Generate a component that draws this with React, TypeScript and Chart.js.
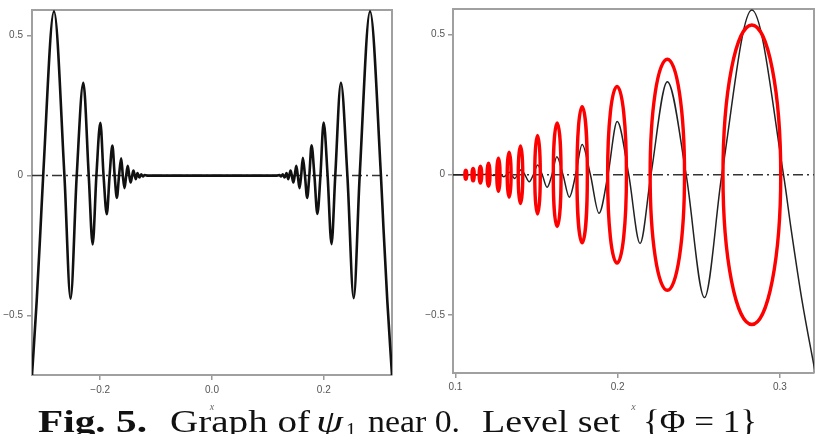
import React, { useEffect, useRef } from 'react';
import { Chart, registerables } from 'chart.js';

Chart.register(...registerables);

// ---------- data ----------
// psi_1 for x < 0 (left panel, negative half)
const negX = [
  -0.322, -0.3136, -0.3068, -0.302, -0.2827,
  -0.264, -0.253, -0.242, -0.2302, -0.2205, -0.2135, -0.2068, -0.1997, -0.194,
  -0.1882, -0.1832, -0.1782, -0.1741, -0.1702, -0.1663, -0.1625, -0.1595, -0.1565, -0.1535,
  -0.1507, -0.148, -0.1455, -0.1428, -0.1405, -0.1365, -0.1333, -0.1298, -0.1267, -0.1235,
  -0.1205, -0.118, -0.115,
];
const negY = [
  -0.713, -0.448, -0.19, 0, 0.587,
  0, -0.44, 0, 0.332, 0, -0.246, 0, 0.189, 0,
  -0.138, 0, 0.107, 0, -0.08, 0, 0.062, 0, -0.045, 0,
  0.035, 0, -0.025, 0, 0.018, -0.013, 0.009, -0.007, 0.005, -0.003,
  0.002, 0.001, 0,
];
// psi_1 for x > 0 (right panel, also right half of left panel)
const psiX = [
  0.098, 0.115, 0.118, 0.1205, 0.1235, 0.1267, 0.1298, 0.1333, 0.1365, 0.1405,
  0.1428, 0.1455, 0.148, 0.1507, 0.1535, 0.1565, 0.1595, 0.1625, 0.1663, 0.1702,
  0.1741, 0.1781, 0.1832, 0.1885, 0.194, 0.1997, 0.2068, 0.2138, 0.2205, 0.2306,
  0.2422, 0.2535, 0.2642, 0.2827, 0.3022, 0.3068, 0.3136, 0.322,
];
const psiY = [
  0, 0, 0.001, 0.002, -0.003, 0.005, -0.007, 0.009, -0.013, 0.018,
  0, -0.025, 0, 0.035, 0, -0.045, 0, 0.064, 0, -0.08,
  0, 0.108, 0, -0.137, 0, 0.19, 0, -0.245, 0, 0.332,
  0, -0.438, 0, 0.587, 0, -0.19, -0.448, -0.713,
];

// level set {Phi = 1}: closed red loops (centre, half width, half height)
const ellipseCenters = [0.1064, 0.1109, 0.1154, 0.1204, 0.1265, 0.1331, 0.1401, 0.1506, 0.1627, 0.1781, 0.1996, 0.2306, 0.2827];
const ellipseHalfWidths = [0.0006, 0.0007, 0.0008, 0.0009, 0.001, 0.0012, 0.0014, 0.0017, 0.0024, 0.0032, 0.0058, 0.0106, 0.0178];
const ellipseHalfHeights = [0.016, 0.022, 0.03, 0.041, 0.059, 0.08, 0.103, 0.14, 0.185, 0.243, 0.315, 0.412, 0.534];

// axes
const leftXRange = [-0.322, 0.322];
const leftYRange = [-0.713, 0.592];
const rightXRange = [0.0985, 0.321];
const rightYRange = [-0.707, 0.591];
const leftXTicks = [-0.2, 0, 0.2];
const leftXTickLabels = ['\u22120.2', '0.0', '0.2'];
const rightXTicks = [0.1, 0.2, 0.3];
const rightXTickLabels = ['0.1', '0.2', '0.3'];
const yTicks = [-0.5, 0, 0.5];
const yTickLabels = ['\u22120.5', '0', '0.5'];
const axisTitle = 'x';

// ---------- plugins ----------
const closedLoopPlugin = {
  id: 'closedLoop',
  afterDatasetsUpdate(chart: any) {
    chart.data.datasets.forEach((ds: any, i: number) => {
      if (!ds.closedLoop) return;
      const line: any = chart.getDatasetMeta(i).dataset;
      if (!line) return;
      line._loop = true;
      line._fullLoop = true;
      line._segments = undefined;
      line._path = undefined;
      line._pointsUpdated = false;
    });
  },
};

const framePlugin = {
  id: 'frame',
  beforeDatasetsDraw(chart: any) {
    const { ctx, chartArea: a } = chart;
    ctx.save();
    ctx.strokeStyle = '#a0a0a0';
    ctx.lineWidth = 2;
    ctx.beginPath();
    ctx.moveTo(a.left, a.top);
    ctx.lineTo(a.right, a.top);
    ctx.lineTo(a.right, a.bottom);
    ctx.stroke();
    ctx.restore();
  },
};

const tickFont = { family: 'Liberation Sans', size: 10 };

function buildConfig(o: any) {
  return {
    type: 'line',
    data: { datasets: o.datasets },
    options: {
      responsive: false,
      animation: false,
      events: [],
      layout: { padding: { top: 6, right: o.padRight, bottom: 0, left: 0 } },
      plugins: { legend: { display: false }, tooltip: { enabled: false } },
      elements: { point: { radius: 0 } },
      scales: {
        x: {
          type: 'linear',
          min: o.xRange[0],
          max: o.xRange[1],
          afterBuildTicks: (s: any) => {
            s.ticks = o.xTicks.map((v: number) => ({ value: v }));
          },
          afterFit: (s: any) => {
            s.height = o.xAxisHeight;
          },
          ticks: {
            autoSkip: false,
            maxRotation: 0,
            padding: o.xLabelPad,
            color: '#555',
            font: tickFont,
            callback: (_v: any, i: number) => o.xTickLabels[i],
          },
          grid: { drawOnChartArea: false, drawTicks: true, tickLength: 5, color: '#999', lineWidth: 1.5 },
          border: { display: true, color: '#a0a0a0', width: 2 },
          title: {
            display: true,
            text: axisTitle,
            color: '#666',
            font: { family: 'Liberation Serif', style: 'italic', size: 10 },
            padding: { top: 0, bottom: 7 },
          },
        },
        y: {
          type: 'linear',
          min: o.yRange[0],
          max: o.yRange[1],
          afterBuildTicks: (s: any) => {
            s.ticks = yTicks.map((v) => ({ value: v }));
          },
          afterFit: (s: any) => {
            s.width = o.yAxisWidth;
          },
          ticks: {
            autoSkip: false,
            padding: o.yLabelPad,
            color: '#555',
            font: tickFont,
            callback: (_v: any, i: number) => yTickLabels[i],
          },
          grid: { drawOnChartArea: false, drawTicks: true, tickLength: 5, color: '#999', lineWidth: 1.5 },
          border: { display: true, color: '#a0a0a0', width: 2 },
        },
      },
    },
    plugins: [closedLoopPlugin, framePlugin],
  };
}

function zeroLine(r: number[], order: number) {
  return {
    data: [
      { x: r[0], y: 0 },
      { x: r[1], y: 0 },
    ],
    borderColor: '#333',
    borderWidth: 1.5,
    borderDash: [10, 4, 2, 4],
    pointRadius: 0,
    order,
  };
}

function leftConfig() {
  const curve = [
    ...negX.map((x, i) => ({ x, y: negY[i] })),
    ...psiX.map((x, i) => ({ x, y: psiY[i] })),
  ];
  return buildConfig({
    datasets: [
      zeroLine(leftXRange, 2),
      {
        data: curve,
        borderColor: '#111',
        borderWidth: 2.6,
        cubicInterpolationMode: 'monotone',
        pointRadius: 0,
        order: 0,
      },
    ],
    xRange: leftXRange,
    yRange: leftYRange,
    xTicks: leftXTicks,
    xTickLabels: leftXTickLabels,
    padRight: 18,
    yAxisWidth: 32,
    xAxisHeight: 45,
    xLabelPad: 4,
    yLabelPad: 4,
  });
}

function rightConfig() {
  const curve = psiX.map((x, i) => ({ x, y: psiY[i] }));
  const loops = ellipseCenters.map((c, i) => ({
    data: [
      { x: c, y: ellipseHalfHeights[i] },
      { x: c + ellipseHalfWidths[i], y: 0 },
      { x: c, y: -ellipseHalfHeights[i] },
      { x: c - ellipseHalfWidths[i], y: 0 },
    ],
    borderColor: '#ff0000',
    borderWidth: 3.4,
    tension: 0.5523,
    pointRadius: 0,
    closedLoop: true,
    order: 0,
  }));
  return buildConfig({
    datasets: [
      zeroLine(rightXRange, 3),
      {
        data: curve,
        borderColor: '#222',
        borderWidth: 1.5,
        cubicInterpolationMode: 'monotone',
        pointRadius: 0,
        order: 1,
      },
      ...loops,
    ],
    xRange: rightXRange,
    yRange: rightYRange,
    xTicks: rightXTicks,
    xTickLabels: rightXTickLabels,
    padRight: 14,
    yAxisWidth: 39,
    xAxisHeight: 47,
    xLabelPad: 3,
    yLabelPad: 3,
  });
}

function Panel({ make, left, width, height }: { make: () => any; left: number; width: number; height: number }) {
  const ref = useRef<HTMLCanvasElement>(null);
  useEffect(() => {
    const chart = new Chart(ref.current as HTMLCanvasElement, make());
    return () => chart.destroy();
  }, []);
  return (
    <canvas
      ref={ref}
      width={width}
      height={height}
      style={{ position: 'absolute', left, top: 0, width, height }}
    />
  );
}

export default function App() {
  const serif = 'Liberation Serif';
  return (
    <div
      style={{
        position: 'fixed',
        left: 0,
        top: 0,
        width: 828,
        height: 434,
        overflow: 'hidden',
        background: '#fff',
      }}
    >
      <Panel make={leftConfig} left={0} width={410} height={420} />
      <Panel make={rightConfig} left={414} width={414} height={420} />
      <svg
        width={828}
        height={434}
        style={{ position: 'absolute', left: 0, top: 0, pointerEvents: 'none' }}
      >
        <g fill="#111" fontFamily={serif}>
          <text x={38} y={432} fontWeight="bold" fontSize={31} textLength={109} lengthAdjust="spacingAndGlyphs">
            Fig. 5.
          </text>
          <text x={170} y={432} fontSize={31} textLength={140} lengthAdjust="spacingAndGlyphs">
            Graph of
          </text>
          <text x={316} y={432} fontSize={32} fontStyle="italic" textLength={27} lengthAdjust="spacingAndGlyphs">
            ψ
          </text>
          <text x={346} y={437} fontSize={20}>
            1
          </text>
          <text x={368} y={432} fontSize={31} textLength={92} lengthAdjust="spacingAndGlyphs">
            near 0.
          </text>
          <text x={482} y={432} fontSize={31} textLength={138} lengthAdjust="spacingAndGlyphs">
            Level set
          </text>
          <text x={643} y={432} fontSize={31} textLength={114} lengthAdjust="spacingAndGlyphs">
            {'{Φ = 1}'}
          </text>
        </g>
      </svg>
    </div>
  );
}
